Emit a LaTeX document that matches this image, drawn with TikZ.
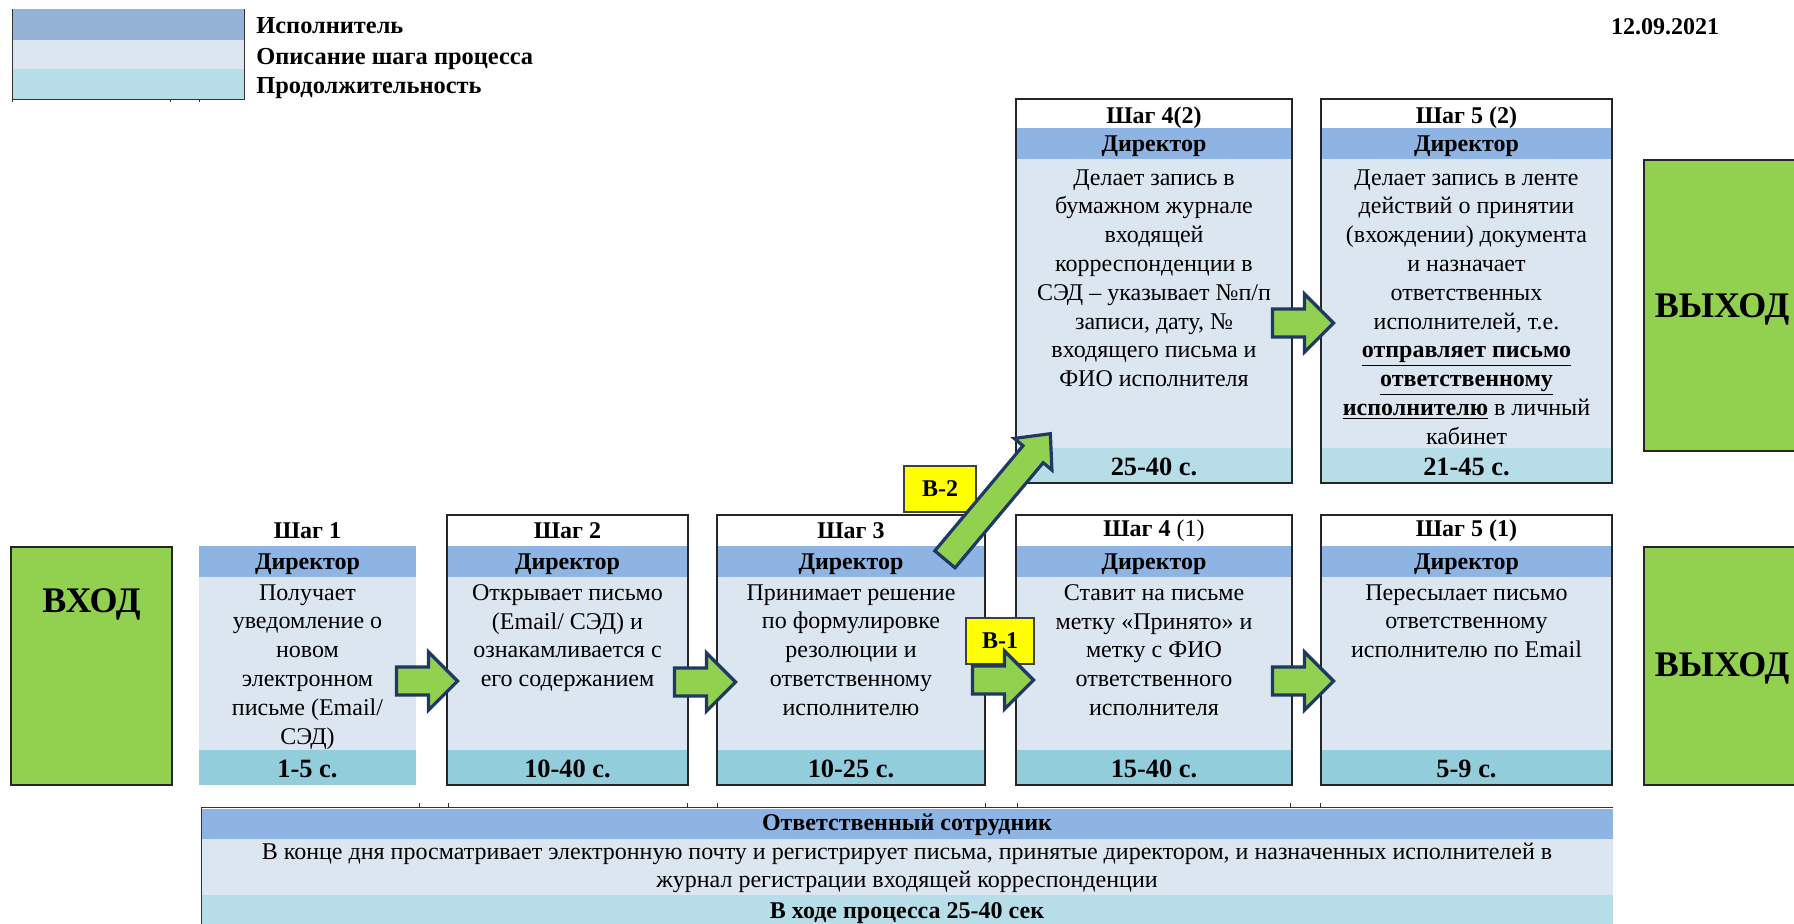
\documentclass[tikz,border=0pt]{standalone}
\usepackage{fontspec}
\setmainfont{Liberation Serif}
\usetikzlibrary{shapes.arrows}
\definecolor{dircol}{HTML}{8DB4E2}
\definecolor{legdir}{HTML}{95B3D7}
\definecolor{desccol}{HTML}{DCE6F1}
\definecolor{durlight}{HTML}{B7DEE8}
\definecolor{durdark}{HTML}{92CDDC}
\definecolor{boxgreen}{HTML}{92D050}
\definecolor{arrnavy}{HTML}{1F3864}
\definecolor{labyellow}{HTML}{FFFF00}
\newcommand{\stepbox}[6]{%
  \fill[dircol] (#2,\yD) rectangle (#3,\yS);
  \fill[desccol] (#2,\yS) rectangle (#3,\yU);
  \fill[#6] (#2,\yU) rectangle (#3,\yB);
  \node[titletxt] (#1t) at ({(#2+#3)/2},{(\yT+\yD)/2+\toff}) {#4};
  \node[dirtxt] (#1d) at ({(#2+#3)/2},{(\yD+\yS)/2+3}) {Директор};
  \node[durtxt] (#1u) at ({(#2+#3)/2},{(\yU+\yB)/2+1}) {#5};
}
\begin{document}
\begin{tikzpicture}[x=0.5pt,y=-0.5pt,
  titletxt/.style={font=\bfseries\fontsize{12}{14}\selectfont, inner sep=0pt},
  dirtxt/.style={font=\bfseries\fontsize{12}{14}\selectfont, inner sep=0pt},
  durtxt/.style={font=\bfseries\fontsize{13.2}{14}\selectfont, inner sep=0pt},
  desctxt/.style={font=\fontsize{12}{14.4}\selectfont, align=center, inner sep=0pt, anchor=north},
  bigtxt/.style={font=\bfseries\fontsize{18}{20}\selectfont, inner sep=0pt},
  legtxt/.style={font=\bfseries\fontsize{12.2}{14}\selectfont, inner sep=0pt, anchor=base west},
  boxline/.style={draw=black!85, line width=0.7pt},
  greenbox/.style={fill=boxgreen, draw=black!85, line width=0.7pt},
  lab/.style={draw=black!75, line width=0.6pt, fill=labyellow, font=\bfseries\fontsize{12}{14}\selectfont, inner sep=0pt},
  barrow/.style={single arrow, draw=arrnavy, line width=1.6pt, fill=boxgreen,
    inner xsep=0pt, inner ysep=6.2pt, single arrow head extend=7.5pt, single arrow tip angle=90,
    minimum height=30.5pt},
]
\useasboundingbox (0,0) rectangle (1794,923);
\clip (0,0) rectangle (1794,923);

% legend
\fill[legdir] (12,9) rectangle (244,40);
\fill[desccol] (12,40) rectangle (244,69);
\fill[durlight] (12,69) rectangle (244,99);
\draw[black!80, line width=0.5pt] (12,9) -- (12,99) -- (244,99) -- (244,9);
\draw[black!80, line width=0.5pt] (170,99) -- (170,102) (199,99) -- (199,102) (12,99) -- (12,102);
\node[legtxt] (l1) at (256,33) {Исполнитель};
\node[legtxt] (l2) at (256,64) {Описание шага процесса};
\node[legtxt] (l3) at (256,93) {Продолжительность};
\node[font=\bfseries\fontsize{12}{14}\selectfont, inner sep=0pt] (date) at (1665,27) {12.09.2021};

% top row
\def\toff{4}
\def\yT{99}\def\yD{128}\def\yS{159}\def\yU{448}\def\yB{483}
\stepbox{s42}{1016}{1292}{Шаг 4(2)}{25-40 с.}{durlight}
\stepbox{s52}{1321}{1612}{Шаг 5 (2)}{21-45 с.}{durlight}
\draw[boxline] (1016,\yT) rectangle (1292,\yB);
\draw[boxline] (1321,\yT) rectangle (1612,\yB);
\node[desctxt] (s42x) at (1154,169) {Делает запись в\\бумажном журнале\\входящей\\корреспонденции в\\СЭД – указывает №п/п\\записи, дату, №\\входящего письма и\\ФИО исполнителя};
\node[desctxt] (s52x) at (1466.5,169) {Делает запись в ленте\\действий о принятии\\(вхождении) документа\\и назначает\\ответственных\\исполнителей, т.е.\\\underline{\textbf{отправляет письмо}}\\\underline{\textbf{ответственному}}\\\underline{\textbf{исполнителю}} в личный\\кабинет};

% bottom row
\def\toff{0}
\def\yT{515}\def\yD{546}\def\yS{577}\def\yU{750}\def\yB{785}
\stepbox{s1}{199}{416}{Шаг 1}{1-5 с.}{durdark}
\stepbox{s2}{447}{688}{Шаг 2}{10-40 с.}{durdark}
\stepbox{s3}{717}{985}{Шаг 3}{10-25 с.}{durdark}
\stepbox{s41}{1016}{1292}{Шаг 4 \textmd{(1)}}{15-40 с.}{durdark}
\stepbox{s51}{1321}{1612}{Шаг 5 (1)}{5-9 с.}{durdark}
\draw[boxline] (447,\yT) rectangle (688,\yB);
\draw[boxline] (717,\yT) rectangle (985,\yB);
\draw[boxline] (1016,\yT) rectangle (1292,\yB);
\draw[boxline] (1321,\yT) rectangle (1612,\yB);
\node[desctxt] (s1x) at (307.5,584) {Получает\\уведомление о\\новом\\электронном\\письме (Email/\\СЭД)};
\node[desctxt] (s2x) at (567.5,584) {Открывает письмо\\(Email/ СЭД) и\\ознакамливается с\\его содержанием};
\node[desctxt] (s3x) at (851,584) {Принимает решение\\по формулировке\\резолюции и\\ответственному\\исполнителю};
\node[desctxt] (s41x) at (1154,584) {Ставит на письме\\метку «Принято» и\\метку с ФИО\\ответственного\\исполнителя};
\node[desctxt] (s51x) at (1466.5,584) {Пересылает письмо\\ответственному\\исполнителю по Email};

% input / output
\draw[greenbox] (11,547) rectangle (172,785);
\node[bigtxt] (in) at (91.5,604) {ВХОД};
\draw[greenbox] (1644,160) rectangle (1810,451);
\node[bigtxt] (out2) at (1722,309) {ВЫХОД};
\draw[greenbox] (1644,547) rectangle (1810,785);
\node[bigtxt] (out1) at (1722,668) {ВЫХОД};

% banner
\fill[dircol] (201,809) rectangle (1613,839);
\fill[desccol] (201,839) rectangle (1613,895);
\fill[durlight] (201,895) rectangle (1613,930);
\draw[black!80, line width=0.5pt] (201,930) -- (201,807) -- (1613,807);
\foreach \tx in {419,448,687,717,985,1017,1290,1320}
  \draw[black!80, line width=0.5pt] (\tx,807) -- (\tx,803);
\node[font=\bfseries\fontsize{12}{14}\selectfont, inner sep=0pt] (bt) at (907,825) {Ответственный сотрудник};
\node[font=\fontsize{12}{14}\selectfont, align=center, inner sep=0pt] (bx) at (907,868) {В конце дня просматривает электронную почту и регистрирует письма, принятые директором, и назначенных исполнителей в\\журнал регистрации входящей корреспонденции};
\node[font=\bfseries\fontsize{12}{14}\selectfont, inner sep=0pt] (bu) at (907,913) {В ходе процесса 25-40 сек};

% labels
\node[lab, minimum width=36pt, minimum height=23pt] (b2) at (940,489) {В-2};
\node[lab, minimum width=34pt, minimum height=23pt] (b1) at (1000,641) {В-1};

% arrows
\node[barrow] (a12) at (420,681) {};
\node[barrow] (a23) at (698,682) {};
\node[barrow] (a34) at (996,680) {};
\node[barrow] (a45) at (1296,681) {};
\node[barrow] (a45t) at (1296,323) {};
\node[barrow, minimum height=82pt, inner ysep=5.8pt, single arrow head extend=5.7pt, single arrow tip angle=85, rotate=50] (a3u) at (993,502) {};
\end{tikzpicture}
\end{document}
